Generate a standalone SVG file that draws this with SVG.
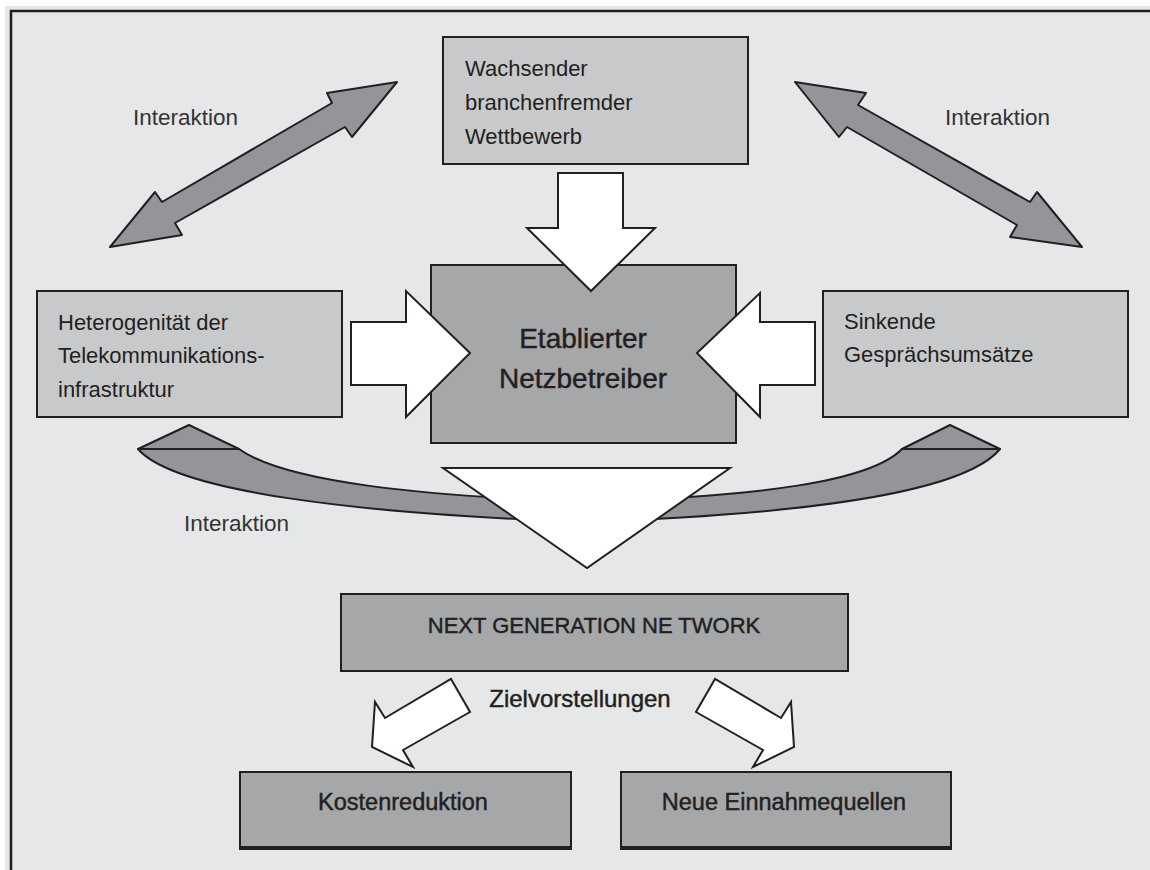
<svg xmlns="http://www.w3.org/2000/svg" width="1150" height="870" viewBox="0 0 1150 870">
<style>
  text { font-family: "Liberation Sans", Arial, sans-serif; fill: #231f20; }
  .lbl { font-size: 22.5px; fill: #333; }
  .box { stroke: #231f20; stroke-width: 2; }
  .light { fill: #c8c9cb; }
  .dark { fill: #a6a7a9; }
  .t22 { font-size: 22px; }
  .em { stroke: #231f20; stroke-width: 0.45; }
  .white { fill: #ffffff; stroke: #231f20; stroke-width: 2; stroke-linejoin: miter; }
  .grey { fill: #939598; stroke: #231f20; stroke-width: 2; stroke-linejoin: round; }
</style>
<rect x="0" y="0" width="1150" height="870" fill="#ffffff"/>
<rect x="5" y="6" width="1145" height="864" fill="#e6e7e8"/>
<path d="M11,870 V11 H1150" fill="none" stroke="#231f20" stroke-width="2.5"/>

<g id="node-wettbewerb">
  <rect class="box light" x="443" y="37" width="305" height="127"/>
  <text class="t22" x="465" y="76">Wachsender</text>
  <text class="t22" x="465" y="110">branchenfremder</text>
  <text class="t22" x="465" y="144">Wettbewerb</text>
</g>

<g id="node-heterogenitaet">
  <rect class="box light" x="37" y="291" width="305" height="126"/>
  <text class="t22" x="58" y="330">Heterogenität der</text>
  <text class="t22" x="58" y="363">Telekommunikations-</text>
  <text class="t22" x="58" y="397">infrastruktur</text>
</g>

<g id="node-gespraech">
  <rect class="box light" x="823" y="291" width="305" height="126"/>
  <text class="t22" x="844" y="329">Sinkende</text>
  <text class="t22" x="844" y="362">Gesprächsumsätze</text>
</g>

<g id="node-netzbetreiber">
  <rect class="box dark" x="431" y="265" width="305" height="178"/>
  <text class="em" x="583" y="348" font-size="28" text-anchor="middle">Etablierter</text>
  <text class="em" x="583" y="388" font-size="28" text-anchor="middle">Netzbetreiber</text>
</g>

<g id="node-ngn">
  <rect class="box dark" x="341" y="594" width="507" height="77"/>
  <text class="em" x="594" y="633" font-size="22" text-anchor="middle">NEXT GENERATION NE TWORK</text>
</g>

<g id="node-kosten">
  <rect class="box dark" x="240" y="772" width="331" height="76"/>
  <line x1="239" y1="848" x2="572" y2="848" stroke="#231f20" stroke-width="4"/>
  <text class="em" x="403" y="810" font-size="23.5" text-anchor="middle">Kostenreduktion</text>
</g>

<g id="node-einnahmen">
  <rect class="box dark" x="621" y="772" width="330" height="76"/>
  <line x1="620" y1="848" x2="952" y2="848" stroke="#231f20" stroke-width="4"/>
  <text class="em" x="784" y="810" font-size="23.5" text-anchor="middle">Neue Einnahmequellen</text>
</g>

<g id="connectors">
  <!-- top-left interaction arrow -->
  <polygon class="grey" points="110,247 155,192 162,202 332,103 327,93 397,82 352,137 345,127 175,223 182,235"/>
  <!-- top-right interaction arrow -->
  <polygon class="grey" points="795,82 866,93 858,105 1030,202 1037,192 1082,247 1010,237 1017,225 847,127 839,137"/>
  <!-- bottom curved interaction band -->
  <path class="grey" d="M138,449 C175,492 360,514 587,522 C810,514 965,492 1000,449 L902,449 C870,482 760,496 587,502 C420,496 285,482 239,449 Z"/>
  <polygon class="grey" points="138,449 189,425 239,449"/>
  <polygon class="grey" points="902,449 950,425 1000,449"/>
  <!-- white arrows into centre -->
  <polygon class="white" points="558,173 623,173 623,228 655,228 591,291 527,228 558,228"/>
  <polygon class="white" points="351,322 406,322 406,291 470,353 406,417 406,385 351,385"/>
  <polygon class="white" points="815,322 760,322 760,293 697,353 760,417 760,385 815,385"/>
  <!-- big triangle -->
  <polygon class="white" points="443,468 730,468 587,568"/>
  <!-- Zielvorstellungen arrows -->
  <polygon class="white" points="451,679 470,712 403,750 413,767 372,747 375,702 385,718"/>
  <polygon class="white" points="715,679 696,712 763,750 753,767 794,747 791,702 781,718"/>
</g>

<g id="labels">
  <text class="lbl" x="133" y="125">Interaktion</text>
  <text class="lbl" x="945" y="125">Interaktion</text>
  <text class="lbl" x="184" y="531">Interaktion</text>
  <text class="em" x="580" y="707" font-size="24" text-anchor="middle">Zielvorstellungen</text>
</g>
</svg>
